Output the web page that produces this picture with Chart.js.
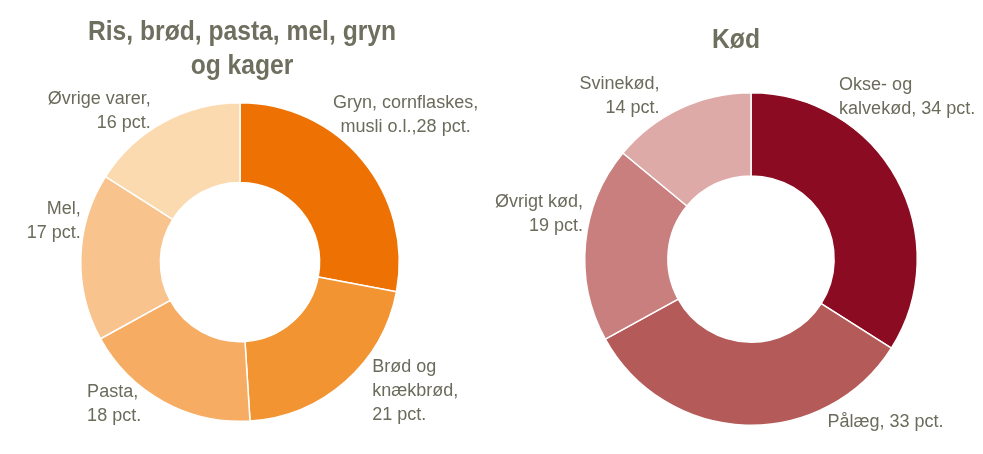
<!DOCTYPE html>
<html>
<head>
<meta charset="utf-8">
<script src="https://cdn.jsdelivr.net/npm/chart.js@4"></script>
<style>
  body { margin: 0; background: #fff; }
  #wrap { position: relative; width: 983px; height: 454px; }
  .box { position: absolute; top: 0; height: 454px; }
</style>
</head>
<body>
<div id="wrap">
  <div class="box" style="left:0;width:490px"><canvas id="brod"></canvas></div>
  <div class="box" style="left:490px;width:493px"><canvas id="kod"></canvas></div>
</div>
<script>
// Ris, brød, pasta ... (venstre)
const brodCategories = ['Gryn, cornflaskes, musli o.l.', 'Brød og knækbrød', 'Pasta', 'Mel', 'Øvrige varer'];
const brodValues = [28, 21, 18, 17, 16];
const brodLabelText = [
  'Gryn, cornflaskes,\nmusli o.l.,{v} pct.',
  'Brød og\nknækbrød,\n{v} pct.',
  'Pasta,\n{v} pct.',
  'Mel,\n{v} pct.',
  'Øvrige varer,\n{v} pct.'
];

// Kød (højre)
const kodCategories = ['Okse- og kalvekød', 'Pålæg', 'Øvrigt kød', 'Svinekød'];
const kodValues = [34, 33, 19, 14];
const kodLabelText = [
  'Okse- og\nkalvekød, {v} pct.',
  'Pålæg, {v} pct.',
  'Øvrigt kød,\n{v} pct.',
  'Svinekød,\n{v} pct.'
];

const brodColors = ['#EE7203', '#F29432', '#F6AC63', '#F9C38E', '#FCDAB0'];
const kodColors = ['#8B0C22', '#B45B5A', '#C87F7E', '#DEAAA8'];

// label anchors, in units of the outer radius from the centre
const brodLabelPos = [[1.04, -0.925, 'center'], [0.83, 0.81, 'left'], [-0.96, 0.89, 'left'], [-1.0, -0.26, 'right'], [-0.56, -0.95, 'right']];
const kodLabelPos = [[0.53, -0.976, 'left'], [0.46, 0.98, 'left'], [-1.01, -0.27, 'right'], [-0.55, -0.98, 'right']];

const FONT = "'Liberation Sans', Arial, sans-serif";
const TEXT = '#6b6b5c';

const labelPlugin = {
  id: 'sideLabels',
  afterDraw(chart, args, opts) {
    const ctx = chart.ctx;
    const arc = chart.getDatasetMeta(0).data[0];
    const cx = arc.x, cy = arc.y, r = arc.outerRadius;
    const vals = chart.data.datasets[0].data;
    ctx.save();
    ctx.fillStyle = TEXT;
    ctx.font = '18px ' + FONT;
    ctx.textBaseline = 'middle';
    opts.text.forEach((t, i) => {
      const lines = t.replace('{v}', vals[i]).split('\n');
      const p = opts.pos[i];
      const x = cx + p[0] * r;
      const y0 = cy + p[1] * r - (lines.length - 1) * 24 / 2;
      ctx.textAlign = p[2];
      lines.forEach((l, j) => ctx.fillText(l, x, y0 + j * 24));
    });
    // title, squeezed a bit like a narrow face
    ctx.fillStyle = '#6f6f5f';
    ctx.font = 'bold 28px ' + FONT;
    ctx.textAlign = 'center';
    ctx.textBaseline = 'alphabetic';
    opts.title.forEach((l, j) => {
      ctx.save();
      ctx.translate(cx + opts.titleDx, opts.titleY + j * 34);
      ctx.scale(0.88, 1);
      ctx.fillText(l, 0, 0);
      ctx.restore();
    });
    ctx.restore();
  }
};

function makeDoughnut(id, labels, values, colors, padding, labelOpts) {
  return new Chart(document.getElementById(id), {
    type: 'doughnut',
    data: {
      labels: labels,
      datasets: [{
        data: values,
        backgroundColor: colors,
        borderColor: '#fff',
        borderWidth: 1.5
      }]
    },
    options: {
      responsive: true,
      maintainAspectRatio: false,
      animation: false,
      cutout: '50%',
      layout: { padding: padding },
      plugins: {
        legend: { display: false },
        tooltip: { enabled: false },
        sideLabels: labelOpts
      }
    },
    plugins: [labelPlugin]
  });
}

makeDoughnut('brod', brodCategories, brodValues, brodColors,
  { top: 102, bottom: 32, left: 80, right: 90 },
  { text: brodLabelText, pos: brodLabelPos, title: ['Ris, brød, pasta, mel, gryn', 'og kager'], titleDx: 2, titleY: 40 });

makeDoughnut('kod', kodCategories, kodValues, kodColors,
  { top: 92, bottom: 28, left: 94, right: 65 },
  { text: kodLabelText, pos: kodLabelPos, title: ['Kød'], titleDx: -15, titleY: 48 });
</script>
</body>
</html>
